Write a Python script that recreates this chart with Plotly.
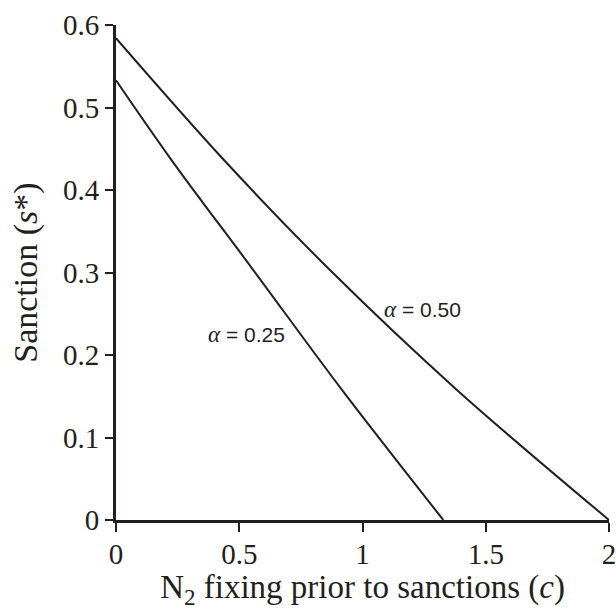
import plotly.graph_objects as go

# Data
c_alpha025 = [0, 0.226, 0.557, 0.916, 1.328]
s_alpha025 = [0.533, 0.436, 0.303, 0.158, 0.0]
c_alpha050 = [0, 0.439, 0.868, 1.382, 2.0]
s_alpha050 = [0.584, 0.436, 0.303, 0.158, 0.0]

x_ticks = [0, 0.5, 1, 1.5, 2]
x_tick_text = ["0", "0.5", "1", "1.5", "2"]
y_ticks = [0, 0.1, 0.2, 0.3, 0.4, 0.5, 0.6]
y_tick_text = ["0", "0.1", "0.2", "0.3", "0.4", "0.5", "0.6"]

labels = ["0.25", "0.50"]
label_x = [0.531, 1.245]
label_y = [0.225, 0.255]

serif = "Liberation Serif, Times New Roman, serif"
sans = "Liberation Sans, Arial, sans-serif"
ink = "#231f20"

fig = go.Figure()
for xs, ys, name in [(c_alpha025, s_alpha025, "α = 0.25"), (c_alpha050, s_alpha050, "α = 0.50")]:
    fig.add_trace(go.Scatter(x=xs, y=ys, mode="lines", name=name,
                             line=dict(color=ink, width=2, shape="spline", smoothing=1.0),
                             cliponaxis=False, showlegend=False, hoverinfo="x+y"))

for lab, lx, ly in zip(labels, label_x, label_y):
    fig.add_annotation(x=lx, y=ly, xref="x", yref="y", showarrow=False,
                       text=f"<span style='font-family:{serif};font-size:23px'><i>α</i></span> = {lab}",
                       font=dict(family=sans, size=21, color=ink))

fig.update_layout(
    width=616, height=610,
    margin=dict(l=116, r=7, t=25, b=90),
    paper_bgcolor="white", plot_bgcolor="white",
    font=dict(family=serif, color=ink),
)
fig.update_xaxes(range=[0, 2], tickvals=x_ticks, ticktext=x_tick_text, automargin=False,
                 ticklabeloverflow="allow", ticklabelstandoff=-3,
                 showgrid=False, zeroline=False, showline=True, linewidth=3, linecolor=ink,
                 ticks="outside", ticklen=9, tickwidth=2, tickcolor=ink,
                 tickfont=dict(family=serif, size=29, color=ink),
                 title=dict(text="N<sub>2</sub> fixing prior to sanctions (<i>c</i>)",
                            font=dict(family=serif, size=33, color=ink), standoff=8))
fig.update_yaxes(range=[0, 0.6], tickvals=y_ticks, ticktext=y_tick_text, automargin=False,
                 ticklabeloverflow="allow",
                 showgrid=False, zeroline=False, showline=True, linewidth=3, linecolor=ink,
                 ticks="outside", ticklen=8, tickwidth=2, tickcolor=ink,
                 tickfont=dict(family=serif, size=29, color=ink),
                 title=dict(text="Sanction (<i>s</i>*)",
                            font=dict(family=serif, size=34, color=ink), standoff=16))

fig.write_html("out.html", config={"displayModeBar": False},
               post_script="document.body.style.margin='0';document.body.style.overflow='hidden';")
